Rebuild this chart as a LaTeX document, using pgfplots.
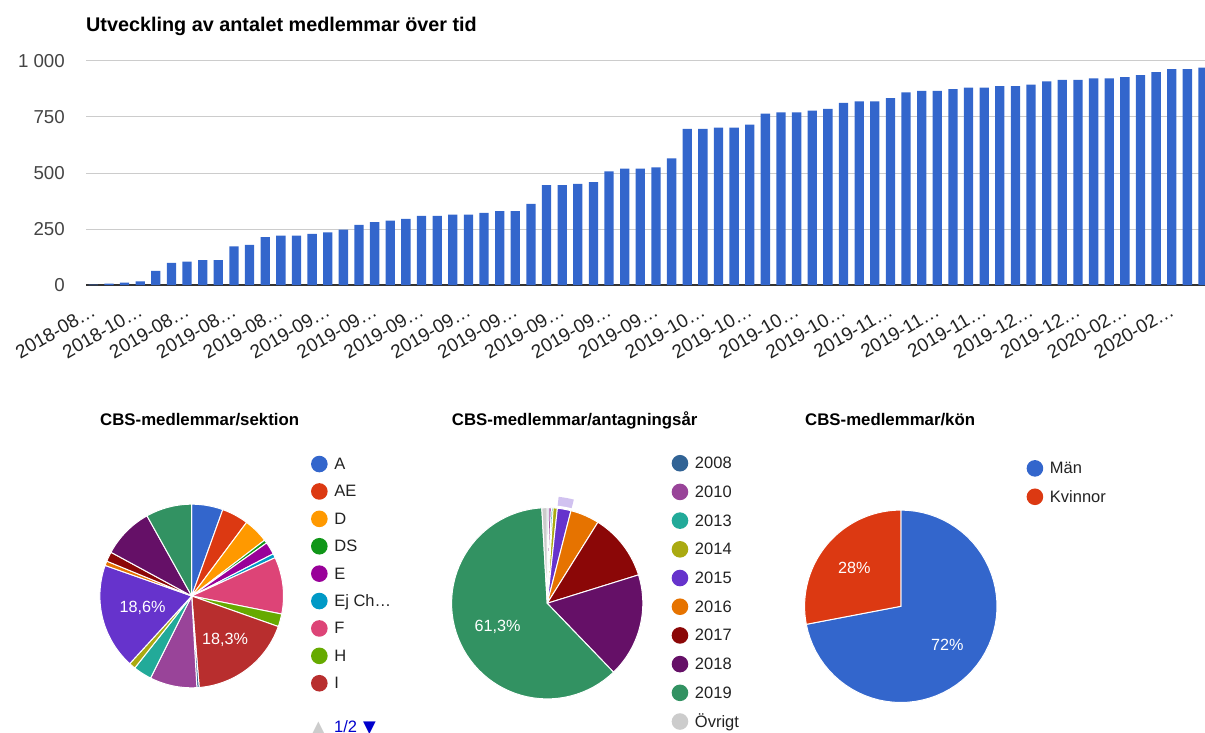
\documentclass[border=0pt]{standalone}
\usepackage{fontspec}
\setmainfont{Liberation Sans}
\newfontfamily\symfont{DejaVu Sans}
\usepackage{pgfplots}
\pgfplotsset{compat=1.18}

\definecolor{gblue}{HTML}{3366CC}
\definecolor{gred}{HTML}{DC3912}
\definecolor{gorange}{HTML}{FF9900}
\definecolor{ggreen}{HTML}{109618}
\definecolor{gpurple}{HTML}{990099}
\definecolor{gcyan}{HTML}{0099C6}
\definecolor{gpink}{HTML}{DD4477}
\definecolor{glime}{HTML}{66AA00}
\definecolor{gbrick}{HTML}{B82E2E}
\definecolor{gnavy}{HTML}{316395}
\definecolor{gmauve}{HTML}{994499}
\definecolor{gteal}{HTML}{22AA99}
\definecolor{golive}{HTML}{AAAA11}
\definecolor{gviolet}{HTML}{6633CC}
\definecolor{gdorange}{HTML}{E67300}
\definecolor{gdred}{HTML}{8B0707}
\definecolor{gplum}{HTML}{651067}
\definecolor{gsea}{HTML}{329262}
\definecolor{ggray}{HTML}{CCCCCC}
\definecolor{hilite}{HTML}{D1C2F0}
\definecolor{gridgray}{HTML}{CCCCCC}
\definecolor{basegray}{HTML}{333333}
\definecolor{ylab}{HTML}{444444}
\definecolor{xlab}{HTML}{222222}
\definecolor{legtext}{HTML}{222222}
\definecolor{pagerblue}{HTML}{0000CC}

\newcommand\fs[1]{\fontsize{#1}{#1}\selectfont}

% pie slices: percentages accumulate clockwise from 12 o'clock
\newcommand\resetpie{\gdef\piecum{0}}
\newcommand\pieslice[3][]{%
  \pgfmathsetmacro\pa{\piecum*3.6}%
  \pgfmathsetmacro\pb{(\piecum+#2)*3.6}%
  \pgfmathsetmacro\pc{\piecum+#2}%
  \global\let\piecum\pc
  \edef\doslice{\noexpand\addplot[fill=#3, draw=white, line width=1pt, domain=\pa:\pb, samples=60, #1] ({sin(x)},{cos(x)}) -- (axis cs:0,0) -- cycle;}%
  \doslice
}

\pgfplotsset{
  pieaxis/.style={scale only axis, hide axis, xmin=-1, xmax=1, ymin=-1, ymax=1,
    clip=false, anchor=center, legend cell align=left,
    legend image code/.code={\fill[##1,draw=none] (8.3pt,0pt) circle (8.3pt);},
    legend style={draw=none, fill=none, inner sep=0pt, outer sep=0pt,
      anchor=north west, column sep=6.7pt, font=\fs{16.5}, text=legtext,
      nodes={inner sep=0pt, text height=14pt, text depth=3pt}},
  },
}

\begin{document}
\begin{tikzpicture}
\path[use as bounding box] (0pt,0pt) rectangle (1205pt,733pt);

% ---------------- bar chart ----------------
\node[anchor=base west, inner sep=0pt, font=\bfseries\fs{19.8}] at (86pt,701pt) {Utveckling av antalet medlemmar över tid};
\begin{axis}[
  at={(86pt,447.8pt)}, anchor=south west,
  scale only axis, width=1119pt, height=224.3pt,
  xmin=0.533, xmax=72.13, ymin=0, ymax=1000, enlargelimits=false,
  axis line style={draw=none},
  major tick length=0pt,
  ytick={0,250,500,750,1000},
  yticklabels={0,250,500,750,1 000},
  ymajorgrids, major grid style={color=gridgray, line width=1pt},
  extra y ticks={0}, extra y tick labels={},
  extra y tick style={grid=major, major grid style={color=basegray, line width=1.4pt}},
  xtick={1,4,...,70},
  xticklabels={2018-08…,2018-10…,2019-08…,2019-08…,2019-08…,2019-09…,2019-09…,2019-09…,2019-09…,2019-09…,2019-09…,2019-09…,2019-09…,2019-10…,2019-10…,2019-10…,2019-10…,2019-11…,2019-11…,2019-11…,2019-12…,2019-12…,2020-02…,2020-02…},
  xticklabel style={font=\fs{18.9}, text=xlab, inner sep=0pt, xshift=-3pt, yshift=-18pt, rotate=30, anchor=north east},
  yticklabel style={font=\fs{18.7}, text=ylab, inner sep=0pt, anchor=east, xshift=-21pt},
  ybar, bar width=9.3pt,
]
\addplot[fill=gblue, draw=none] table[x=i, y=n] {
i n
1 3
2 7
3 11
4 17
5 64
6 99
7 105
8 112
9 112
10 173
11 180
12 214
13 221
14 221
15 229
16 236
17 248
18 269
19 281
20 288
21 296
22 309
23 309
24 315
25 315
26 322
27 330
28 330
29 362
30 446
31 446
32 452
33 459
34 507
35 520
36 520
37 525
38 565
39 697
40 697
41 703
42 703
43 716
44 765
45 771
46 771
47 778
48 786
49 813
50 819
51 819
52 834
53 860
54 866
55 866
56 874
57 881
58 881
59 888
60 888
61 894
62 909
63 915
64 915
65 922
66 922
67 928
68 936
69 950
70 963
71 963
72 970
};
\end{axis}

% ---------------- pie 1: sektion ----------------
\node[anchor=base west, inner sep=0pt, font=\bfseries\fs{16.8}] at (100pt,307pt) {CBS-medlemmar/sektion};
\begin{axis}[pieaxis, at={(191.7pt,137pt)}, width=183.6pt, height=183.6pt,
  legend style={at={(axis description cs:1.150,1.265)}, row sep=10.4pt}]
\resetpie
\pieslice{5.5}{gblue}\addlegendentry{A}
\pieslice{4.7}{gred}\addlegendentry{AE}
\pieslice{4.4}{gorange}\addlegendentry{D}
\pieslice{0.6}{ggreen}\addlegendentry{DS}
\pieslice{2.2}{gpurple}\addlegendentry{E}
\pieslice{0.75}{gcyan}\addlegendentry{Ej Ch…}
\pieslice{10.0}{gpink}\addlegendentry{F}
\pieslice{2.25}{glime}\addlegendentry{H}
\pieslice{18.3}{gbrick}\addlegendentry{I}
\pieslice[forget plot]{0.4}{gnavy}
\pieslice[forget plot]{8.3}{gmauve}
\pieslice[forget plot]{3.25}{gteal}
\pieslice[forget plot]{1.15}{golive}
\pieslice[forget plot]{18.6}{gviolet}
\pieslice[forget plot]{0.8}{gdorange}
\pieslice[forget plot]{1.7}{gdred}
\pieslice[forget plot]{9.0}{gplum}
\pieslice[forget plot]{8.1}{gsea}
\node[text=white, font=\fs{16.2}, inner sep=0pt] at (axis cs:-0.534,-0.131) {18,6\%};
\node[text=white, font=\fs{16.2}, inner sep=0pt] at (axis cs:0.363,-0.476) {18,3\%};
\end{axis}
\node[anchor=base west, inner sep=0pt, font=\symfont\fs{16.5}, text=ggray] at (312pt,0.5pt) {▲};
\node[anchor=base west, inner sep=0pt, font=\fs{16.5}, text=pagerblue] at (334pt,0.5pt) {1/2};
\node[anchor=base west, inner sep=0pt, font=\symfont\fs{16.5}, text=pagerblue] at (363pt,0.5pt) {▼};

% ---------------- pie 2: antagningsår ----------------
\node[anchor=base west, inner sep=0pt, font=\bfseries\fs{16.8}] at (451.7pt,307pt) {CBS-medlemmar/antagningsår};
\begin{axis}[pieaxis, at={(547.2pt,129.7pt)}, width=191.2pt, height=191.2pt,
  legend style={at={(axis description cs:1.151,1.277)}, row sep=11.7pt}]
% hover highlight around the 2015 slice
\addplot[fill=hilite, draw=none, domain=6.12:14.4, samples=30, forget plot] ({1.12*sin(x)},{1.12*cos(x)}) -- (axis cs:0,0) -- cycle;
\addplot[fill=white, draw=none, domain=5:16, samples=30, forget plot] ({1.026*sin(x)},{1.026*cos(x)}) -- (axis cs:0,0) -- cycle;
\resetpie
\pieslice{0.3}{gnavy}\addlegendentry{2008}
\pieslice{0.4}{gmauve}\addlegendentry{2010}
\pieslice{0.3}{gteal}\addlegendentry{2013}
\pieslice{0.7}{golive}\addlegendentry{2014}
\pieslice{2.3}{gviolet}\addlegendentry{2015}
\pieslice{4.9}{gdorange}\addlegendentry{2016}
\pieslice{11.3}{gdred}\addlegendentry{2017}
\pieslice{17.6}{gplum}\addlegendentry{2018}
\pieslice{61.3}{gsea}\addlegendentry{2019}
\pieslice{0.9}{ggray}\addlegendentry{Övrigt}
\node[text=white, font=\fs{16.2}, inner sep=0pt] at (axis cs:-0.52,-0.245) {61,3\%};
\end{axis}

% ---------------- pie 3: kön ----------------
\node[anchor=base west, inner sep=0pt, font=\bfseries\fs{16.8}] at (805pt,307pt) {CBS-medlemmar/kön};
\begin{axis}[pieaxis, at={(900.8pt,126.7pt)}, width=192.4pt, height=192.4pt,
  legend style={at={(axis description cs:1.154,1.261)}, row sep=11.4pt}]
\resetpie
\pieslice{72}{gblue}\addlegendentry{Män}
\pieslice{28}{gred}\addlegendentry{Kvinnor}
\node[text=white, font=\fs{16.2}, inner sep=0pt] at (axis cs:0.484,-0.403) {72\%};
\node[text=white, font=\fs{16.2}, inner sep=0pt] at (axis cs:-0.484,0.396) {28\%};
\end{axis}
\end{tikzpicture}
\end{document}
